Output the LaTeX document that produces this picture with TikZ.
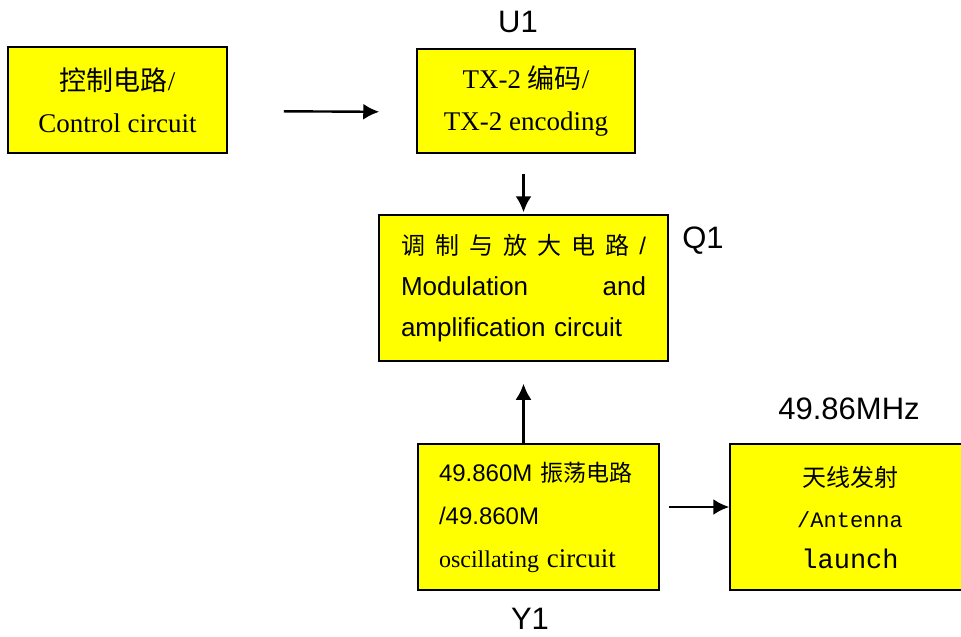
\documentclass[tikz,border=0pt]{standalone}
\usepackage{fontspec}
\setmainfont{Liberation Serif}
\setsansfont{Liberation Sans}
\setmonofont{Liberation Mono}
\newfontfamily\cjk{Noto Sans CJK SC}
\usetikzlibrary{calc,arrows.meta}
\definecolor{boxyellow}{RGB}{255,255,0}
\tikzset{
  blockbox/.style={draw=black,line width=0.75pt,fill=boxyellow,inner sep=0pt},
  arr/.style={-{Latex[length=8pt,width=8pt]},line width=1.2pt},
  tag/.style={font=\sffamily\fontsize{15.5}{18}\selectfont}
}

\begin{document}
\begin{tikzpicture}[x=0.5pt,y=-0.5pt]
  \useasboundingbox (0,0) rectangle (961,636);

  % Control circuit
  \node[blockbox,minimum width=109.5pt,minimum height=53pt,align=center,font=\fontsize{13.5}{21}\selectfont] (ctrl) at (117.5,100) {{\cjk 控制电路}/\\Control circuit};

  % TX-2 encoding
  \node[blockbox,minimum width=109pt,minimum height=52pt,align=center,font=\fontsize{13.5}{21}\selectfont] (tx) at (526,101) {TX-2 {\cjk 编码}/\\TX-2 encoding};
  \node[tag] (u1) at (518,22) {U1};

  % Modulation and amplification
  \node[blockbox,minimum width=144.5pt,minimum height=73pt,align=left,text width=122.5pt,font=\sffamily\fontsize{13}{20.5}\selectfont] (mod) at (523.5,288) {\makebox[122.5pt][s]{\cjk\fontsize{12}{20.5}\selectfont 调\hfill 制\hfill 与\hfill 放\hfill 大\hfill 电\hfill 路\hfill\sffamily /}\\\makebox[122.5pt][s]{Modulation\hfill and}\\amplification circuit};
  \node[tag] (q1) at (703,241) {Q1};

  % Oscillating circuit
  \node[blockbox,minimum width=120.5pt,minimum height=73pt,align=left,text width=99.5pt,font=\sffamily\fontsize{12}{21.5}\selectfont] (osc) at (538.5,517) {49.860M~{\cjk\fontsize{11.5}{21.5}\selectfont 振荡电路}\\/49.860M\\{\rmfamily\fontsize{12}{21.5}\selectfont oscillating \fontsize{13.5}{21.5}\selectfont circuit}};
  \node[tag] (y1) at (530,619) {Y1};

  % Antenna launch
  \node[blockbox,minimum width=120pt,minimum height=73pt,align=center,font=\ttfamily\fontsize{11}{20.5}\selectfont] (ant) at (850,517) {{\cjk\fontsize{12}{20.5}\selectfont 天线发射}\\/Antenna\\{\fontsize{13.5}{20.5}\selectfont launch}};
  \node[tag] (freq) at (849,409) {49.86MHz};

  % Signal flow
  \draw[arr,shorten <=28pt,shorten >=18.5pt] ([yshift=-5.5pt]ctrl.east) -- ([yshift=-5.5pt]tx.west);
  \draw[arr,shorten <=10pt,shorten >=1pt] (tx.south -| mod.north) -- (mod.north);
  \draw[arr,shorten >=11pt] (osc.north -| mod.south) -- (mod.south);
  \draw[arr,shorten <=4.5pt] ([yshift=5pt]osc.east) -- ([yshift=5pt]ant.west);

\end{tikzpicture}
\end{document}
